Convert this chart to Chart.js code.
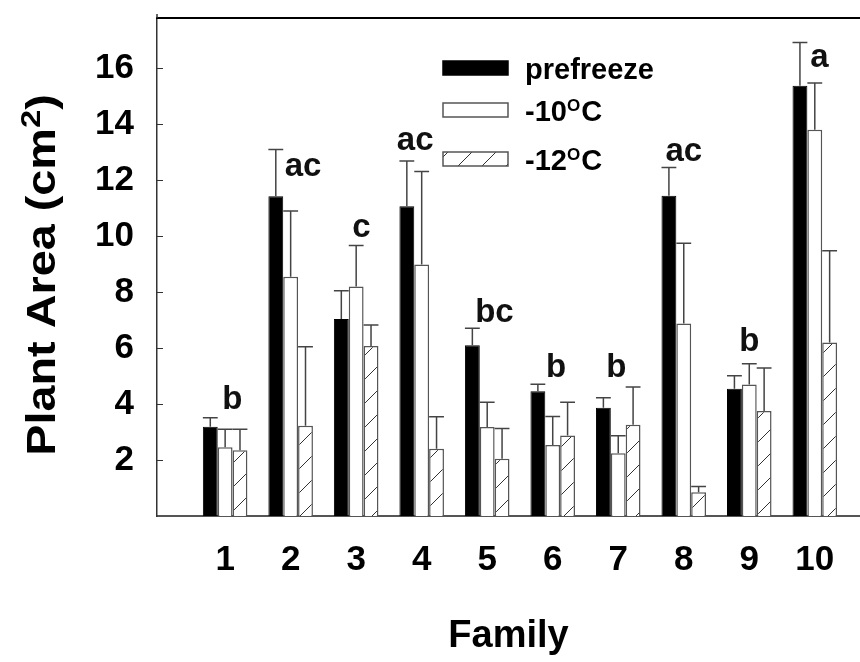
<!DOCTYPE html>
<html><head><meta charset="utf-8">
<script src="https://cdn.jsdelivr.net/npm/chart.js@4.4.1/dist/chart.umd.min.js"></script>
<style>html,body{margin:0;padding:0;background:#fff}#wrap{width:860px;height:662px}</style>
</head><body><div id="wrap"><canvas id="c" width="860" height="662"></canvas></div>
<script>
// ---- data ----
const families = [1, 2, 3, 4, 5, 6, 7, 8, 9, 10];
const prefreeze   = [3.19, 11.43, 7.04, 11.07, 6.10, 4.46, 3.87, 11.45, 4.55, 15.38];
const prefreezeSE = [0.32, 1.67, 1.01, 1.62, 0.61, 0.25, 0.36, 1.01, 0.46, 1.54];
const minus10     = [2.46, 8.55, 8.20, 8.99, 3.18, 2.54, 2.24, 6.88, 4.70, 13.81];
const minus10SE   = [0.64, 2.35, 1.47, 3.32, 0.89, 1.02, 0.63, 2.87, 0.74, 1.67];
const minus12     = [2.35, 3.23, 6.08, 2.40, 2.05, 2.88, 3.26, 0.85, 3.75, 6.20];
const minus12SE   = [0.75, 2.82, 0.75, 1.15, 1.08, 1.19, 1.35, 0.20, 1.54, 3.28];
const yTicks = [2, 4, 6, 8, 10, 12, 14, 16];
const groupLetters = ['b', 'ac', 'c', 'ac', 'bc', 'b', 'b', 'ac', 'b', 'a'];
const letterValues = [4.14, 12.46, 10.29, 13.39, 7.25, 5.29, 5.29, 13.0, 6.21, 16.39];
const letterShift  = [0.11, 0.19, 0.08, -0.10, 0.11, 0.05, -0.03, 0.0, 0.0, 0.07];
const seriesNames = ['prefreeze', '-10', '-12'];

const FONT = '"Liberation Sans", Arial, sans-serif';

function makeHatch() {
  const c = document.createElement('canvas');
  c.width = 24; c.height = 24;
  const g = c.getContext('2d');
  g.fillStyle = '#fff'; g.fillRect(0, 0, 24, 24);
  g.strokeStyle = '#333'; g.lineWidth = 1;
  g.beginPath(); g.moveTo(-1, 25); g.lineTo(25, -1); g.stroke();
  return document.getElementById('c').getContext('2d').createPattern(c, 'repeat');
}
const hatch = makeHatch();

const overlay = {
  id: 'overlay',
  afterDatasetsDraw(chart) {
    const { ctx, chartArea: a, scales: { x, y } } = chart;
    const seList = [prefreezeSE, minus10SE, minus12SE];
    ctx.save();
    // error bars
    chart.data.datasets.forEach((ds, di) => {
      const meta = chart.getDatasetMeta(di);
      meta.data.forEach((bar, i) => {
        const top = y.getPixelForValue(ds.data[i].y + seList[di][i]);
        const half = bar.width / 2;
        ctx.strokeStyle = '#444'; ctx.lineWidth = 1.5;
        ctx.beginPath();
        ctx.moveTo(bar.x, bar.y); ctx.lineTo(bar.x, top);
        ctx.moveTo(bar.x - half, top); ctx.lineTo(bar.x + half, top);
        ctx.stroke();
      });
    });
    // group letters
    ctx.fillStyle = '#111';
    ctx.font = 'bold 33px ' + FONT;
    ctx.textAlign = 'center'; ctx.textBaseline = 'middle';
    groupLetters.forEach((t, i) => {
      ctx.fillText(t, x.getPixelForValue(families[i] + letterShift[i]), y.getPixelForValue(letterValues[i]));
    });
    // top frame line
    ctx.strokeStyle = '#000'; ctx.lineWidth = 2;
    ctx.beginPath(); ctx.moveTo(a.left - 1, a.top); ctx.lineTo(a.right, a.top); ctx.stroke();
    ctx.strokeStyle = '#333'; ctx.lineWidth = 1.5;
    ctx.beginPath(); ctx.moveTo(a.left, a.top - 4); ctx.lineTo(a.left, a.top); ctx.stroke();
    // inward y ticks
    ctx.strokeStyle = '#333'; ctx.lineWidth = 1;
    y.ticks.forEach(t => {
      const py = Math.round(y.getPixelForValue(t.value)) + 0.5;
      ctx.beginPath(); ctx.moveTo(a.left, py); ctx.lineTo(a.left + 6, py); ctx.stroke();
    });
    // legend
    const L = { boxX: 443, boxW: 65, boxH: 14, rows: [68, 110, 159], textX: 525 };
    const fills = ['#000', '#fff', hatch];
    const strokes = ['#000', '#555', '#555'];
    L.rows.forEach((cy, k) => {
      ctx.fillStyle = fills[k];
      ctx.fillRect(L.boxX, cy - L.boxH / 2, L.boxW, L.boxH);
      ctx.strokeStyle = strokes[k]; ctx.lineWidth = 1.5;
      ctx.strokeRect(L.boxX, cy - L.boxH / 2, L.boxW, L.boxH);
      ctx.fillStyle = '#000';
      ctx.textAlign = 'left'; ctx.textBaseline = 'alphabetic';
      const base = cy + 11;
      ctx.font = 'bold 29px ' + FONT;
      if (k === 0) {
        ctx.fillText(seriesNames[0], L.textX, base);
      } else {
        let px = L.textX;
        ctx.fillText(seriesNames[k], px, base); px += ctx.measureText(seriesNames[k]).width;
        ctx.font = 'bold 17px ' + FONT;
        ctx.fillText('O', px, base - 10); px += ctx.measureText('O').width + 1;
        ctx.font = 'bold 29px ' + FONT;
        ctx.fillText('C', px, base);
      }
    });
    // y title with superscript
    ctx.translate(40, (a.top + a.bottom) / 2 + 8);
    ctx.rotate(-Math.PI / 2);
    ctx.scale(1.17, 1);
    const big = 'bold 40px ' + FONT, small = 'bold 28px ' + FONT;
    ctx.font = big; const w1 = ctx.measureText('Plant Area (cm').width;
    ctx.font = small; const w2 = ctx.measureText('2').width;
    ctx.font = big; const w3 = ctx.measureText(')').width;
    let sx = -(w1 + w2 + w3) / 2;
    ctx.fillStyle = '#000'; ctx.textAlign = 'left'; ctx.textBaseline = 'alphabetic';
    ctx.font = big; ctx.fillText('Plant Area (cm', sx, 15); sx += w1;
    ctx.font = small; ctx.fillText('2', sx, 0); sx += w2;
    ctx.font = big; ctx.fillText(')', sx, 15);
    ctx.restore();
  }
};

new Chart(document.getElementById('c'), {
  type: 'bar',
  data: {
    datasets: [
      { label: 'prefreeze', data: families.map((f, i) => ({ x: f, y: prefreeze[i] })), backgroundColor: '#000', borderColor: '#000', borderWidth: 1 },
      { label: '-10 C', data: families.map((f, i) => ({ x: f, y: minus10[i] })), backgroundColor: '#fff', borderColor: '#555', borderWidth: 1.5 },
      { label: '-12 C', data: families.map((f, i) => ({ x: f, y: minus12[i] })), backgroundColor: hatch, borderColor: '#555', borderWidth: 1.5 }
    ]
  },
  options: {
    responsive: false,
    animation: false,
    layout: { padding: { top: 18, right: 0, left: 0, bottom: 0 } },
    datasets: { bar: { categoryPercentage: 0.68, barPercentage: 1 } },
    plugins: { legend: { display: false }, tooltip: { enabled: false } },
    scales: {
      x: {
        type: 'linear', min: -0.04, max: 10.69, offset: false,
        afterBuildTicks: s => { s.ticks = families.map(v => ({ value: v })); },
        afterFit: s => { s.height = 146; s.paddingLeft = 0; s.paddingRight = 0; },
        grid: { display: false, drawTicks: false },
        border: { display: true, color: '#555', width: 2 },
        ticks: { color: '#000', font: { family: FONT, size: 35, weight: 'bold' }, padding: 23, autoSkip: false, maxRotation: 0, callback: v => String(v) },
        title: { display: true, text: 'Family', color: '#000', font: { family: FONT, size: 38, weight: 'bold' }, padding: { top: 0, bottom: 3 } }
      },
      y: {
        min: 0, max: 17.8,
        afterBuildTicks: s => { s.ticks = yTicks.map(v => ({ value: v })); },
        afterFit: s => { s.width = 157; s.paddingTop = 0; s.paddingBottom = 0; },
        grid: { display: false, drawTicks: false },
        border: { display: true, color: '#333', width: 1.5 },
        ticks: { color: '#000', font: { family: FONT, size: 35, weight: 'bold' }, padding: 23, callback: v => String(v) }
      }
    }
  },
  plugins: [overlay]
});
</script>
</body></html>
